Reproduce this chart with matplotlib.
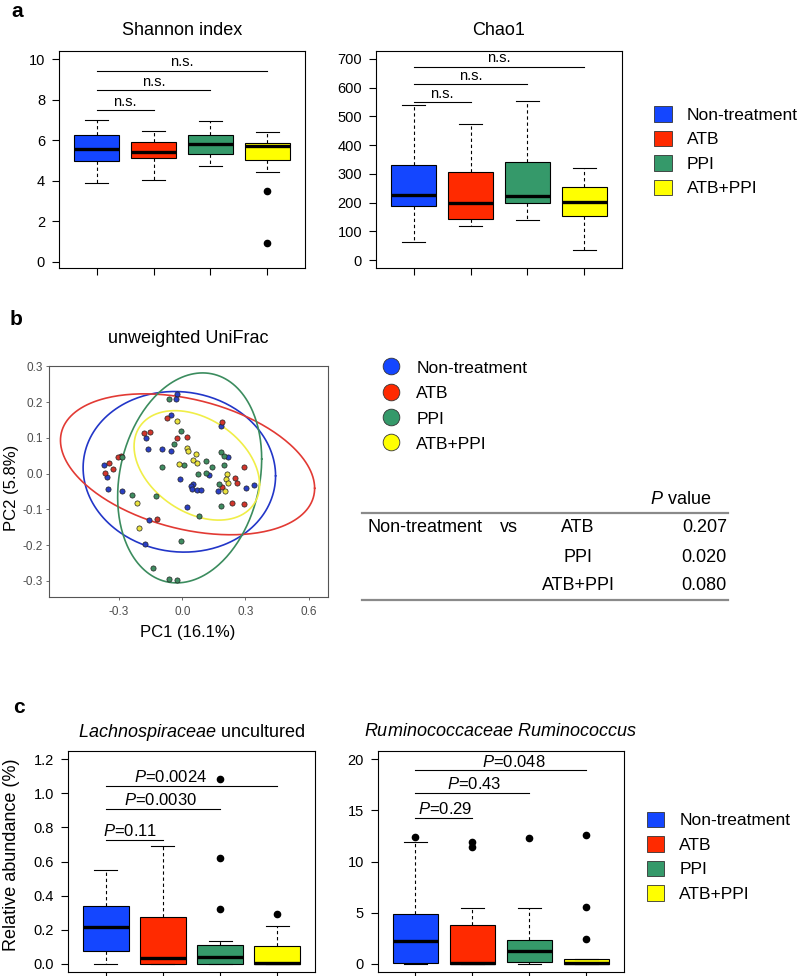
import numpy as np
import matplotlib
matplotlib.use('Agg')
import matplotlib.pyplot as plt
from matplotlib.patches import Patch
from matplotlib.lines import Line2D

plt.rcParams['font.family'] = ['Liberation Sans', 'DejaVu Sans']
plt.rcParams['mathtext.fontset'] = 'custom'
plt.rcParams['mathtext.rm'] = 'Liberation Sans'
plt.rcParams['mathtext.it'] = 'Liberation Sans:italic'
plt.rcParams['axes.unicode_minus'] = False

groups = ['Non-treatment', 'ATB', 'PPI', 'ATB+PPI']
box_colors = ['#1446ff', '#ff2a00', '#35996a', '#ffff00']
dot_colors = ['#2a3fc4', '#d2352b', '#3f8c60', '#eae23e']
ring_colors = ['#2236c8', '#e23a34', '#3b8c5e', '#f0ee48']

# box stats: whisker low, Q1, median, Q3, whisker high
shannon_stats = [[3.89, 4.98, 5.59, 6.26, 7.00],
                 [4.05, 5.15, 5.41, 5.90, 6.48],
                 [4.75, 5.33, 5.82, 6.26, 6.95],
                 [4.46, 5.05, 5.70, 5.85, 6.43]]
shannon_fliers = [[], [], [], [3.52, 0.92]]
shannon_brackets = [7.48, 8.46, 9.44]

chao_stats = [[63, 187, 227, 332, 539],
              [118, 144, 198, 305, 473],
              [139, 198, 223, 343, 552],
              [35, 155, 201, 256, 319]]
chao_fliers = [[], [], [], []]
chao_brackets = [550, 612, 673]

lachno_stats = [[0.0, 0.074, 0.215, 0.341, 0.552],
                [0.0, 0.0, 0.037, 0.276, 0.693],
                [0.0, 0.0, 0.039, 0.112, 0.131],
                [0.0, 0.0, 0.006, 0.102, 0.221]]
lachno_fliers = [[], [], [0.323, 0.619, 1.081], [0.294]]
lachno_brackets = [0.728, 0.908, 1.045]
lachno_pvals = ['0.11', '0.0030', '0.0024']
lachno_text_x = [1.43, 1.95, 2.14]

rumino_stats = [[0.0, 0.07, 2.23, 4.89, 11.9],
                [0.0, 0.0, 0.07, 3.80, 5.48],
                [0.0, 0.16, 1.25, 2.33, 5.48],
                [0.0, 0.0, 0.07, 0.49, 0.49]]
rumino_fliers = [[12.36], [11.9, 11.4], [12.3], [2.43, 5.6, 12.56]]
rumino_brackets = [14.3, 16.7, 18.9]
rumino_pvals = ['0.29', '0.43', '0.048']
rumino_text_x = [1.53, 2.03, 2.72]

# PCoA points (PC1, PC2) per group
nt_x = [-0.024, -0.028, -0.054, 0.183, -0.173, -0.163, -0.098, -0.055, 0.219, -0.012, -0.372, -0.357, -0.352,
        -0.284, 0.129, 0.052, 0.040, 0.045, 0.068, 0.089, 0.168, 0.302, 0.341, 0.021, -0.158, -0.177]
nt_y = [0.222, 0.209, 0.163, 0.134, 0.100, 0.068, 0.068, 0.063, 0.046, -0.015, 0.023, -0.010, -0.043,
        -0.049, -0.005, -0.029, -0.034, -0.043, -0.047, -0.047, -0.048, -0.041, -0.033, -0.094, -0.130, -0.197]
atb_x = [-0.074, 0.188, -0.181, -0.151, -0.026, 0.023, -0.289, -0.303, -0.348, -0.328, -0.369, 0.291, 0.248,
         0.262, 0.187, 0.235, 0.295, -0.119]
atb_y = [0.155, 0.143, 0.113, 0.115, 0.100, 0.103, 0.048, 0.046, 0.031, 0.012, 0.003, 0.019, -0.012,
         -0.025, -0.038, -0.083, -0.085, -0.128]
ppi_x = [-0.065, -0.008, -0.040, -0.284, -0.098, 0.008, 0.184, 0.197, 0.113, 0.141, 0.199, 0.076, 0.113,
         0.172, -0.239, -0.127, 0.186, 0.081, -0.006, -0.138, -0.062, -0.027]
ppi_y = [0.208, 0.119, 0.082, 0.047, 0.019, 0.023, 0.060, 0.050, 0.034, 0.018, 0.024, 0.000, 0.003,
         -0.029, -0.061, -0.062, -0.090, -0.118, -0.189, -0.265, -0.295, -0.298]
ap_x = [-0.026, 0.021, 0.029, 0.064, 0.052, 0.068, -0.014, 0.211, 0.208, 0.219, 0.203, -0.214, -0.206]
ap_y = [0.148, 0.072, 0.063, 0.054, 0.038, 0.029, 0.027, 0.000, -0.015, -0.027, -0.048, -0.083, -0.151]

# ellipses: centre x, centre y, x half-extent, y half-extent, correlation
ell_cx = [-0.014, 0.025, 0.035, 0.069]
ell_cy = [0.005, 0.026, -0.012, 0.023]
ell_sx = [0.457, 0.6035, 0.342, 0.298]
ell_sy = [0.2245, 0.197, 0.2935, 0.153]
ell_r = [-0.05, -0.34, 0.18, -0.35]

pvalue_groups = ['ATB', 'PPI', 'ATB+PPI']
pvalues = ['0.207', '0.020', '0.080']

W, H = 800, 976
fig = plt.figure(figsize=(8, 9.76), dpi=100)


def fx(px):
    return px / W


def fy(py):
    return 1 - py / H


def rect(x0, y0, x1, y1):
    return [fx(x0), fy(y1), (x1 - x0) / W, (y1 - y0) / H]


def box_panel(r, stats, fliers, ylim, yticks, title, title_pad):
    ax = fig.add_axes(r)
    bst = [dict(whislo=s[0], q1=s[1], med=s[2], q3=s[3], whishi=s[4], fliers=f)
           for s, f in zip(stats, fliers)]
    parts = ax.bxp(bst, positions=[1, 2, 3, 4], widths=0.8, capwidths=0.4, patch_artist=True,
                   boxprops=dict(edgecolor='black', linewidth=0.8),
                   medianprops=dict(color='black', linewidth=2.4, solid_capstyle='butt'),
                   whiskerprops=dict(color='black', linewidth=0.8, linestyle=(0, (3, 2.5))),
                   capprops=dict(color='black', linewidth=0.8),
                   flierprops=dict(marker='o', markerfacecolor='black', markeredgecolor='black',
                                   markersize=4.5))
    for patch, c in zip(parts['boxes'], box_colors):
        patch.set_facecolor(c)
    ax.set_xlim(0.34, 4.66)
    ax.set_ylim(*ylim)
    ax.set_yticks(yticks)
    ax.set_xticks([1, 2, 3, 4])
    ax.tick_params(axis='x', labelbottom=False, direction='out', length=5, width=0.8)
    ax.tick_params(axis='y', direction='out', length=5, width=0.8, pad=5, labelsize=10.5)
    for s in ax.spines.values():
        s.set_linewidth(0.8)
    ax.set_title(title, fontsize=13, pad=title_pad)
    return ax


def brackets(ax, levels, labels, text_x, size, off):
    for k, (lev, lab, tx) in enumerate(zip(levels, labels, text_x)):
        ax.plot([1, k + 2], [lev, lev], color='black', lw=0.8)
        ax.annotate(lab, (tx, lev), xytext=(0, off), textcoords='offset points',
                    ha='center', va='bottom', fontsize=size)


# ---- panel a ----
ax1 = box_panel(rect(59, 50.7, 305, 268), shannon_stats, shannon_fliers, (-0.3, 10.42),
                [0, 2, 4, 6, 8, 10], 'Shannon index', 11)
brackets(ax1, shannon_brackets, ['n.s.'] * 3, [1.5, 2.0, 2.5], 10.5, 1)

ax2 = box_panel(rect(376, 50.7, 622, 268), chao_stats, chao_fliers, (-27, 728),
                range(0, 701, 100), 'Chao1', 11)
brackets(ax2, chao_brackets, ['n.s.'] * 3, [1.5, 2.0, 2.5], 10.5, 1)

fig.text(fx(11), fy(17), 'a', fontsize=15, fontweight='bold', ha='left', va='baseline')

leg_sq = [Patch(facecolor=c, edgecolor='#333333', linewidth=0.6) for c in box_colors]
fig.legend(leg_sq, groups, loc='center left', bbox_to_anchor=(fx(654.3), fy(151.3)),
           frameon=False, fontsize=12.5, handlelength=1.0, handleheight=1.0,
           handletextpad=0.88, labelspacing=0.45, borderpad=0, borderaxespad=0)

# ---- panel b ----
ax3 = fig.add_axes(rect(49, 366.3, 328, 597))
t = np.linspace(0, 2 * np.pi, 300)
for cx, cy, sx, sy, rr, c in zip(ell_cx, ell_cy, ell_sx, ell_sy, ell_r, ring_colors):
    ax3.plot(cx + sx * np.cos(t), cy + sy * (rr * np.cos(t) + np.sqrt(1 - rr ** 2) * np.sin(t)),
             color=c, lw=1.2, zorder=2)
for xs, ys, c in zip([nt_x, atb_x, ppi_x, ap_x], [nt_y, atb_y, ppi_y, ap_y], dot_colors):
    ax3.scatter(xs, ys, s=14, color=c, edgecolor='#222222', linewidth=0.5, zorder=3)
ax3.set_xlim(-0.633, 0.692)
ax3.set_ylim(-0.345, 0.3)
ax3.set_xticks([-0.3, 0.0, 0.3, 0.6])
ax3.set_xticklabels(['-0.3', '0.0', '0.3', '0.6'])
ax3.set_yticks([-0.3, -0.2, -0.1, 0.0, 0.1, 0.2, 0.3])
ax3.set_yticklabels(['-0.3', '-0.2', '-0.1', '0.0', '0.1', '0.2', '0.3'])
ax3.tick_params(direction='out', length=2.5, width=0.6, pad=2, labelsize=8.5,
                colors='#555555', labelcolor='#4d4d4d')
ax3.tick_params(axis='x', pad=4)
for s in ax3.spines.values():
    s.set_linewidth(0.8)
    s.set_color('#555555')
ax3.set_title('unweighted UniFrac', fontsize=13, pad=17)
fig.text(fx(188), fy(632), 'PC1 (16.1%)', fontsize=12, ha='center', va='center')
fig.text(fx(12), fy(488), 'PC2 (5.8%)', fontsize=12, ha='center', va='center', rotation=90)
fig.text(fx(10), fy(325), 'b', fontsize=15, fontweight='bold', ha='left', va='baseline')

leg_dot = [Line2D([], [], linestyle='none', marker='o', markersize=12, markerfacecolor=c,
                  markeredgecolor='#333333', markeredgewidth=0.6) for c in box_colors]
fig.legend(leg_dot, groups, loc='center left', bbox_to_anchor=(fx(382.3), fy(405.8)),
           frameon=False, fontsize=12.5, handlelength=1.0, handleheight=1.0,
           handletextpad=0.95, labelspacing=0.5, borderpad=0, borderaxespad=0)

# p-value table
fig.text(fx(650), fy(499), r'$\mathit{P}$ value', fontsize=13, ha='left', va='center')
for yy in [512.7, 600]:
    fig.add_artist(Line2D([fx(361.7), fx(728)], [fy(yy), fy(yy)], color='#8a8a8a', lw=1.6))
row_y = [528, 557, 585]
fig.text(fx(367.3), fy(row_y[0]), 'Non-treatment', fontsize=13, ha='left', va='center')
fig.text(fx(509), fy(row_y[0]), 'vs', fontsize=13, ha='center', va='center')
for yy, g, p in zip(row_y, pvalue_groups, pvalues):
    fig.text(fx(578), fy(yy), g, fontsize=13, ha='center', va='center')
    fig.text(fx(727), fy(yy), p, fontsize=13, ha='right', va='center')

# ---- panel c ----
ax4 = box_panel(rect(68, 751, 315, 972), lachno_stats, lachno_fliers, (-0.048, 1.248),
                [0.0, 0.2, 0.4, 0.6, 0.8, 1.0, 1.2], r'$\mathit{Lachnospiraceae}$ uncultured', 10)
ax4.set_yticklabels(['0.0', '0.2', '0.4', '0.6', '0.8', '1.0', '1.2'])
brackets(ax4, lachno_brackets, [r'$\mathit{P}$=' + p for p in lachno_pvals], lachno_text_x, 12, 0.5)

ax5 = box_panel(rect(377.7, 751, 624, 972), rumino_stats, rumino_fliers, (-0.8, 20.8),
                [0, 5, 10, 15, 20], r'$\mathit{Ruminococcaceae\ Ruminococcus}$', 11)
brackets(ax5, rumino_brackets, [r'$\mathit{P}$=' + p for p in rumino_pvals], rumino_text_x, 12, 0.5)

fig.text(fx(12), fy(855), 'Relative abundance (%)', fontsize=13, ha='center', va='center', rotation=90)
fig.text(fx(13), fy(713), 'c', fontsize=15, fontweight='bold', ha='left', va='baseline')

fig.legend(leg_sq, groups, loc='center left', bbox_to_anchor=(fx(646.7), fy(856.8)),
           frameon=False, fontsize=12.5, handlelength=1.0, handleheight=1.0,
           handletextpad=0.88, labelspacing=0.45, borderpad=0, borderaxespad=0)

fig.savefig('out.png', dpi=100)
